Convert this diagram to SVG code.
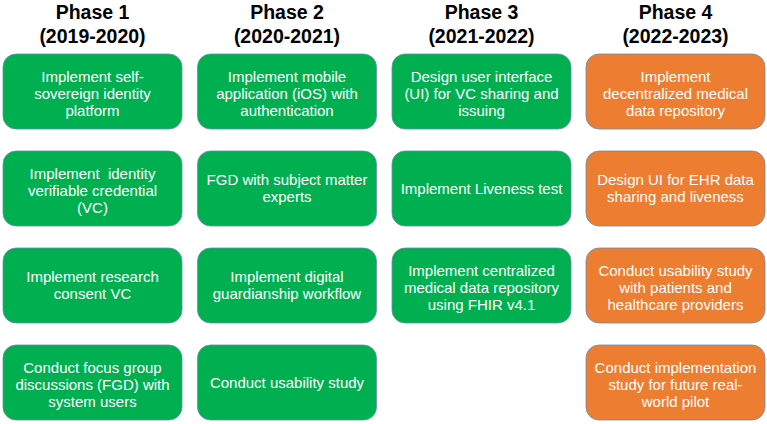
<svg xmlns="http://www.w3.org/2000/svg" width="767" height="424" viewBox="0 0 767 424">
<style>
.h{font-family:"Liberation Sans",Arial,sans-serif;font-weight:bold;font-size:19.5px;fill:#000;text-anchor:middle}
.g{fill:#00B050;stroke:#6a8cad;stroke-width:0.8}
.o{fill:#ED7D31;stroke:#6a8cad;stroke-width:0.8}
.t{font-family:"Liberation Sans",Arial,sans-serif;font-size:15px;fill:#fff;text-anchor:middle;white-space:pre}
</style>
<rect width="767" height="424" fill="#fff"/>
<g id="headers">
<text class="h" x="92.5" y="19">Phase 1</text><text class="h" x="92.5" y="43">(2019-2020)</text>
<text class="h" x="287" y="19">Phase 2</text><text class="h" x="287" y="43">(2020-2021)</text>
<text class="h" x="481.5" y="19">Phase 3</text><text class="h" x="481.5" y="43">(2021-2022)</text>
<text class="h" x="675.5" y="19">Phase 4</text><text class="h" x="675.5" y="43">(2022-2023)</text>
</g>
<g id="p1n1"><rect class="g" x="3" y="54" width="179" height="75" rx="13"/><text class="t" x="92.5" y="82">Implement self-</text><text class="t" x="92.5" y="99">sovereign identity</text><text class="t" x="92.5" y="116">platform</text></g>
<g id="p1n2"><rect class="g" x="3" y="151" width="179" height="75" rx="13"/><text class="t" x="92.5" y="179">Implement  identity</text><text class="t" x="92.5" y="196">verifiable credential</text><text class="t" x="92.5" y="213">(VC)</text></g>
<g id="p1n3"><rect class="g" x="3" y="248" width="179" height="75" rx="13"/><text class="t" x="92.5" y="282">Implement research</text><text class="t" x="92.5" y="299">consent VC</text></g>
<g id="p1n4"><rect class="g" x="3" y="345" width="179" height="75" rx="13"/><text class="t" x="92.5" y="373">Conduct focus group</text><text class="t" x="92.5" y="390">discussions (FGD) with</text><text class="t" x="92.5" y="407">system users</text></g>

<g id="p2n1"><rect class="g" x="197.5" y="54" width="179" height="75" rx="13"/><text class="t" x="287" y="82">Implement mobile</text><text class="t" x="287" y="99">application (iOS) with</text><text class="t" x="287" y="116">authentication</text></g>
<g id="p2n2"><rect class="g" x="197.5" y="151" width="179" height="75" rx="13"/><text class="t" x="287" y="185">FGD with subject matter</text><text class="t" x="287" y="202">experts</text></g>
<g id="p2n3"><rect class="g" x="197.5" y="248" width="179" height="75" rx="13"/><text class="t" x="287" y="282">Implement digital</text><text class="t" x="287" y="299">guardianship workflow</text></g>
<g id="p2n4"><rect class="g" x="197.5" y="345" width="179" height="75" rx="13"/><text class="t" x="287" y="388">Conduct usability study</text></g>

<g id="p3n1"><rect class="g" x="392" y="54" width="179" height="75" rx="13"/><text class="t" x="481.5" y="82">Design user interface</text><text class="t" x="481.5" y="99">(UI) for VC sharing and</text><text class="t" x="481.5" y="116">issuing</text></g>
<g id="p3n2"><rect class="g" x="392" y="151" width="179" height="75" rx="13"/><text class="t" x="481.5" y="194">Implement Liveness test</text></g>
<g id="p3n3"><rect class="g" x="392" y="248" width="179" height="75" rx="13"/><text class="t" x="481.5" y="276">Implement centralized</text><text class="t" x="481.5" y="293">medical data repository</text><text class="t" x="481.5" y="310">using FHIR v4.1</text></g>

<g id="p4n1"><rect class="o" x="586" y="54" width="179" height="75" rx="13"/><text class="t" x="675.5" y="82">Implement</text><text class="t" x="675.5" y="99">decentralized medical</text><text class="t" x="675.5" y="116">data repository</text></g>
<g id="p4n2"><rect class="o" x="586" y="151" width="179" height="75" rx="13"/><text class="t" x="675.5" y="185">Design UI for EHR data</text><text class="t" x="675.5" y="202">sharing and liveness</text></g>
<g id="p4n3"><rect class="o" x="586" y="248" width="179" height="75" rx="13"/><text class="t" x="675.5" y="276">Conduct usability study</text><text class="t" x="675.5" y="293">with patients and</text><text class="t" x="675.5" y="310">healthcare providers</text></g>
<g id="p4n4"><rect class="o" x="586" y="345" width="179" height="75" rx="13"/><text class="t" x="675.5" y="373">Conduct implementation</text><text class="t" x="675.5" y="390">study for future real-</text><text class="t" x="675.5" y="407">world pilot</text></g>
<g id="connectors"/>
</svg>
